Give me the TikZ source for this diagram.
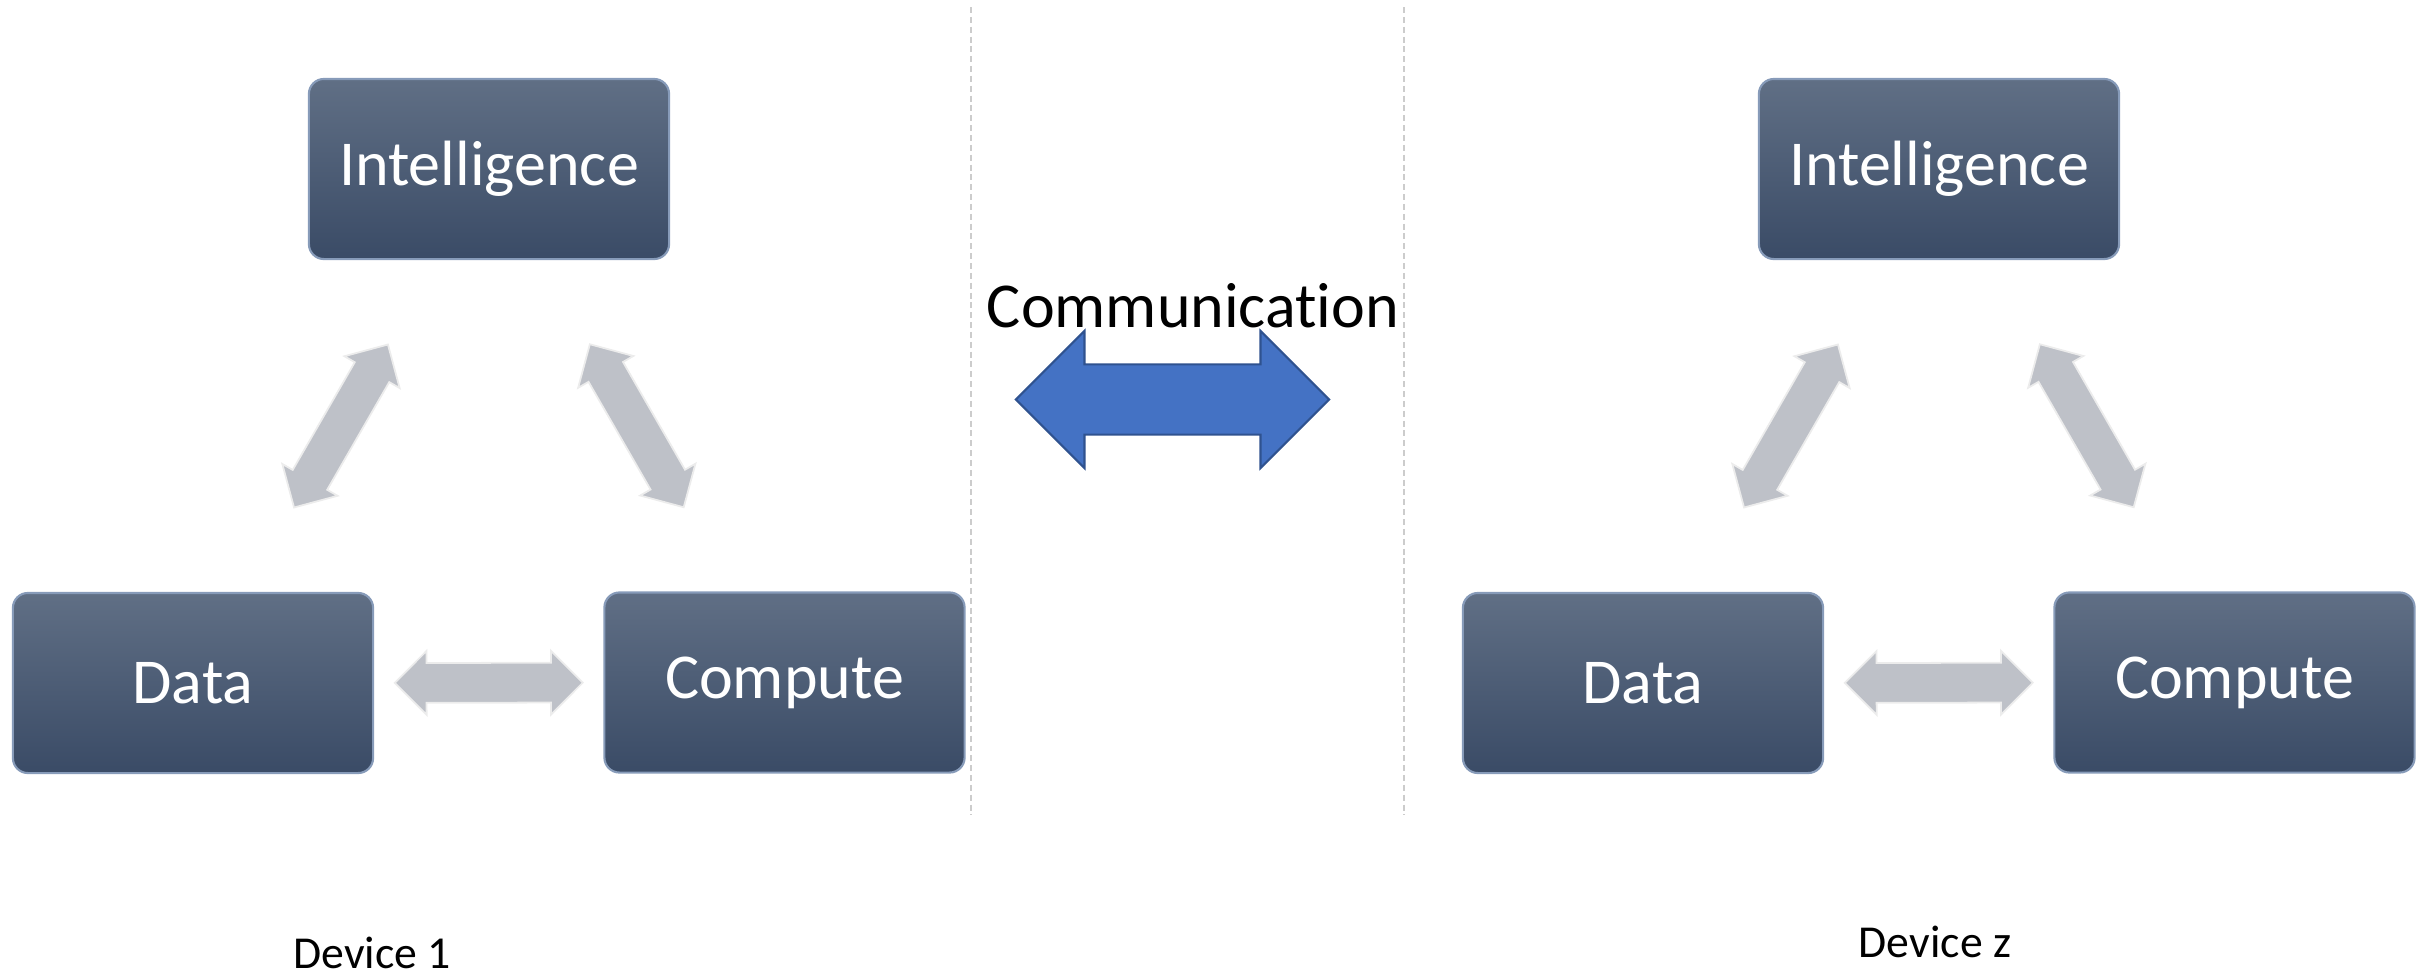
\documentclass[tikz,border=0pt]{standalone}
\usepackage{fontspec}
\setmainfont{Carlito}[Ligatures={NoCommon,NoContextual}]
\usetikzlibrary{shapes.arrows}
\definecolor{boxtop}{RGB}{96,111,133}
\definecolor{boxbot}{RGB}{58,75,102}
\definecolor{boxedge}{RGB}{135,155,185}
\definecolor{arrgray}{RGB}{190,193,200}
\definecolor{commblue}{RGB}{68,114,196}
\definecolor{commedge}{RGB}{47,82,143}
\tikzset{
  blok/.style={rectangle, rounded corners=0.15cm, minimum width=3.6cm, minimum height=1.8cm,
    top color=boxtop, bottom color=boxbot, draw=boxedge, line width=0.6pt,
    text=white, font=\fontsize{18.2}{20}\selectfont, inner sep=0pt},
  duplex/.style={double arrow, fill=arrgray, draw=white!85!gray, line width=0.5pt,
    minimum width=0.62cm, minimum height=1.88cm, double arrow head extend=0.12cm,
    inner xsep=0pt, inner ysep=0.19cm, sloped},
  commarrow/.style={double arrow, fill=commblue, draw=commedge, line width=0.6pt,
    minimum width=1.35cm, minimum height=3.13cm, double arrow head extend=0.335cm,
    inner xsep=0pt, inner ysep=0.34cm},
  septline/.style={gray!40, line width=0.45pt, dash pattern=on 1.7pt off 1.1pt}
}
\begin{document}
\begin{tikzpicture}[x=0.01cm,y=-0.01cm]
    \useasboundingbox (0,0) rectangle (2420,975);
    % device 1
    \node[blok] (intel1) at (489,169) {Intelligence};
    \node[blok] (data1) at (193,683) {Data};
    \node[blok] (comp1) at (784.5,682.5) {Compute};
    \path (data1) -- (intel1) node[duplex, midway] {};
    \path (intel1) -- (comp1) node[duplex, midway] {};
    \path (data1) -- (comp1) node[duplex, midway] {};
    \node[anchor=base, font=\fontsize{13}{15}\selectfont] (dev1) at (372,968) {Device 1};
    % device z
    \node[blok] (intel2) at (1939,169) {Intelligence};
    \node[blok] (data2) at (1643,683) {Data};
    \node[blok] (comp2) at (2234.5,682.5) {Compute};
    \path (data2) -- (intel2) node[duplex, midway] {};
    \path (intel2) -- (comp2) node[duplex, midway] {};
    \path (data2) -- (comp2) node[duplex, midway] {};
    \node[anchor=base, font=\fontsize{13}{15}\selectfont] (dev2) at (1935,957) {Device z};
    % separators
    \draw[septline] (971,7) -- (971,815);
    \draw[septline] (1404,7) -- (1404,815);
    % communication
    \node[anchor=base, font=\fontsize{18.2}{20}\selectfont] (commtext) at (1193,327) {Communication};
    \node[commarrow] (comm) at (1172.5,399.5) {};
\end{tikzpicture}
\end{document}
